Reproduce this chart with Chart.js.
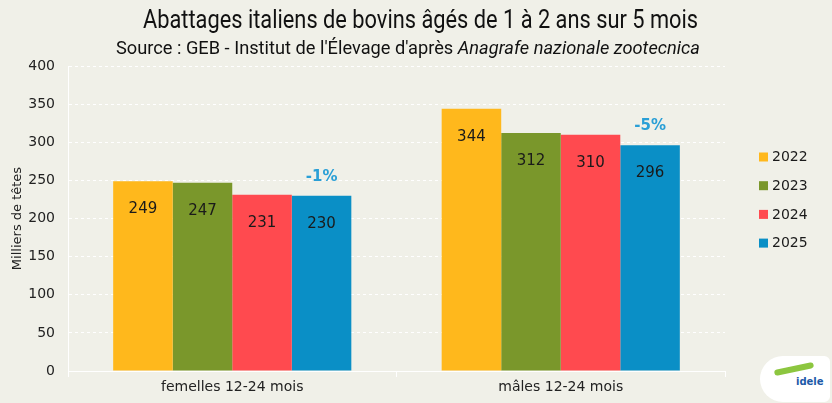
<!DOCTYPE html>
<html>
<head>
<meta charset="utf-8">
<script src="https://cdn.jsdelivr.net/npm/chart.js@4"></script>
<style>
  html, body { margin:0; padding:0; background:#F0F0E8; }
  #wrap { position:relative; width:832px; height:403px; overflow:hidden; background:#F0F0E8; }
  canvas { position:absolute; left:0; top:0; }
  .t { position:absolute; white-space:nowrap; color:#111; transform-origin:0 0; }
  #title { font-family:Roboto, "Open Sans", sans-serif; font-size:26px; top:4px; left:143px; }
  #sub { font-family:Roboto, "Open Sans", sans-serif; font-size:17.5px; top:38px; left:116px; }
  #logo { position:absolute; left:760px; top:356px; width:70px; height:46px; background:#fff; border-radius:40px 10px 10px 40px; }
  #logo span { position:absolute; left:36px; top:20px; font:bold 10px "DejaVu Sans", sans-serif; color:#1d5aa8; }
  #logo i { position:absolute; left:14px; top:10px; width:40px; height:6px; background:#8cc63f; border-radius:4px; transform:rotate(-12deg); }
</style>
</head>
<body>
<div id="wrap">
  <canvas id="c" width="832" height="403"></canvas>
  <div class="t" id="title">Abattages italiens de bovins âgés de 1 à 2 ans sur 5 mois</div>
  <div class="t" id="sub">Source : GEB - Institut de l'Élevage d'après <i>Anagrafe nazionale zootecnica</i></div>
  <div id="logo"><i></i><span>idele</span></div>
</div>
<script>
const categories = ['femelles 12-24 mois', 'mâles 12-24 mois'];
const years = ['2022', '2023', '2024', '2025'];
const values2022 = [249, 344];
const values2023 = [247, 312];
const values2024 = [231, 310];
const values2025 = [230, 296];
const changeLabels = ['-1%', '-5%'];
const yTicks = [0, 50, 100, 150, 200, 250, 300, 350, 400];
const colors = ['#FFB81C', '#7A972B', '#FF4A4F', '#0A8FC6'];

function fitWidth(id, w) {
  const el = document.getElementById(id);
  const r = el.getBoundingClientRect().width;
  el.style.transform = 'scaleX(' + (w / r) + ')';
}
fitWidth('title', 555);
fitWidth('sub', 584);

const valueLabels = {
  id: 'valueLabels',
  afterDatasetsDraw(chart) {
    const ctx = chart.ctx;
    ctx.save();
    ctx.textAlign = 'center';
    ctx.textBaseline = 'middle';
    chart.data.datasets.forEach((ds, di) => {
      const meta = chart.getDatasetMeta(di);
      meta.data.forEach((bar, i) => {
        ctx.font = '15px "DejaVu Sans", sans-serif';
        ctx.fillStyle = '#1a1a1a';
        ctx.fillText(String(ds.data[i]), bar.x, bar.y + 28);
        if (di === chart.data.datasets.length - 1) {
          ctx.font = 'bold 15px "DejaVu Sans", sans-serif';
          ctx.fillStyle = '#2A9FD6';
          ctx.fillText(changeLabels[i], bar.x, bar.y - 19);
        }
      });
    });
    ctx.restore();
  }
};

const sideLegend = {
  id: 'sideLegend',
  afterDraw(chart) {
    const ctx = chart.ctx;
    ctx.save();
    ctx.font = '14px "DejaVu Sans", sans-serif';
    ctx.textBaseline = 'middle';
    ctx.textAlign = 'left';
    chart.data.datasets.forEach((ds, i) => {
      const y = 157 + i * 28.7;
      ctx.fillStyle = ds.backgroundColor;
      ctx.fillRect(759, y - 4.5, 9, 9);
      ctx.fillStyle = '#1a1a1a';
      ctx.fillText(ds.label, 772, y + 0.5);
    });
    ctx.restore();
  }
};

const seriesValues = [values2022, values2023, values2024, values2025];

new Chart(document.getElementById('c'), {
  type: 'bar',
  data: {
    labels: categories,
    datasets: years.map((y, i) => ({
      label: y,
      data: seriesValues[i],
      backgroundColor: colors[i],
      borderWidth: 0,
      barPercentage: 1.0,
      categoryPercentage: 0.725
    }))
  },
  options: {
    responsive: false,
    animation: false,
    devicePixelRatio: 1,
    layout: { padding: { top: 66, right: 107, bottom: 0, left: 0 } },
    plugins: {
      legend: { display: false },
      tooltip: { enabled: false },
      title: { display: false }
    },
    scales: {
      y: {
        min: 0, max: 400,
        afterBuildTicks(scale) { scale.ticks = yTicks.map(v => ({ value: v })); },
        afterFit(scale) { scale.width = 68; },
        ticks: { font: { family: 'DejaVu Sans', size: 14 }, color: '#222', padding: 13 },
        grid: { color: '#FFFFFF', lineWidth: 1, drawTicks: false },
        border: { display: true, color: '#FFFFFF', width: 1, dash: [3, 3] },
        title: { display: true, text: 'Milliers de têtes', font: { family: 'DejaVu Sans', size: 13 }, color: '#222', padding: { top: 10, bottom: 0 } }
      },
      x: {
        afterFit(scale) { scale.height = 32; },
        ticks: { font: { family: 'DejaVu Sans', size: 14 }, color: '#222', padding: 2 },
        grid: { display: true, drawOnChartArea: false, drawTicks: true, tickLength: 6, color: '#FFFFFF', offset: true },
        border: { display: true, color: '#FFFFFF', width: 1 }
      }
    }
  },
  plugins: [valueLabels, sideLegend]
});
</script>
</body>
</html>
